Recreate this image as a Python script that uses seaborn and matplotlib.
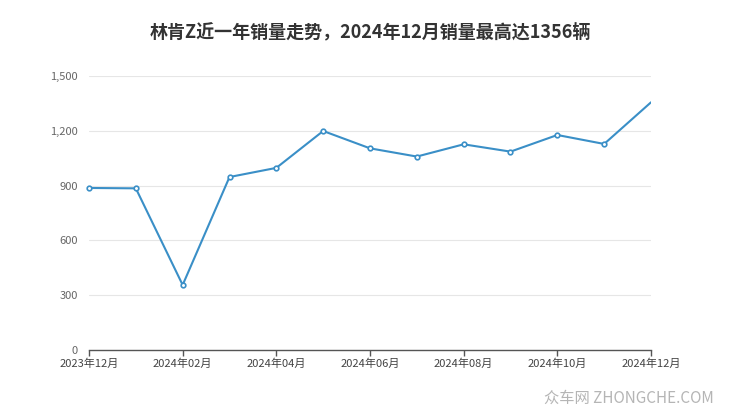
import matplotlib
matplotlib.use('Agg')
import matplotlib.pyplot as plt
import seaborn as sns
import pandas as pd

months = ['2023年12月', '2024年01月', '2024年02月', '2024年03月', '2024年04月', '2024年05月',
          '2024年06月', '2024年07月', '2024年08月', '2024年09月', '2024年10月', '2024年11月',
          '2024年12月']
sales = [887, 885, 356, 947, 997, 1199, 1104, 1059, 1126, 1086, 1177, 1128, 1356]
y_ticks = [0, 300, 600, 900, 1200, 1500]

sns.set_theme(style="white")
plt.rcParams['font.family'] = ['Noto Sans CJK SC', 'DejaVu Sans']

df = pd.DataFrame({'idx': range(len(months)), 'sales': sales})

fig = plt.figure(figsize=(7.4, 4.17), dpi=100)
ax = fig.add_axes([89 / 740, 1 - 350 / 417, (651 - 89) / 740, (350 - 76) / 417])

line_color = '#3a8fc7'
sns.lineplot(data=df, x='idx', y='sales', ax=ax, color=line_color, linewidth=1.5)
pts = df.iloc[:-1]
ax.scatter(pts['idx'], pts['sales'], s=11, facecolor='white', edgecolor=line_color,
           linewidth=1.2, zorder=3, clip_on=False)

ax.set_xlim(0, len(months) - 1)
ax.set_ylim(0, 1500)
ax.set_yticks(y_ticks)
ax.set_yticklabels([f'{v:,}' for v in y_ticks], fontsize=8, color='#666666')
ax.set_xticks(range(0, len(months), 2))
ax.set_xticklabels(months[::2], fontsize=8, color='#444444')
ax.set_xlabel('')
ax.set_ylabel('')

ax.grid(axis='y', color='#e6e6e6', linewidth=0.8)
for s in ['top', 'right', 'left']:
    ax.spines[s].set_visible(False)
ax.spines['bottom'].set_color('#555555')
ax.spines['bottom'].set_linewidth(1)
ax.tick_params(axis='x', length=4, width=1, color='#555555', pad=2, bottom=True)
ax.tick_params(axis='y', length=0, pad=8)

fig.text(0.5, 1 - 32 / 417, '林肯Z近一年销量走势，2024年12月销量最高达1356辆',
         ha='center', va='center', fontsize=13, fontweight='bold', color='#333333')
fig.text(714 / 740, 1 - 398 / 417, '众车网 ZHONGCHE.COM', ha='right', va='center',
         fontsize=11, color='#b5b5b5')

fig.savefig('out.png', dpi=100)
